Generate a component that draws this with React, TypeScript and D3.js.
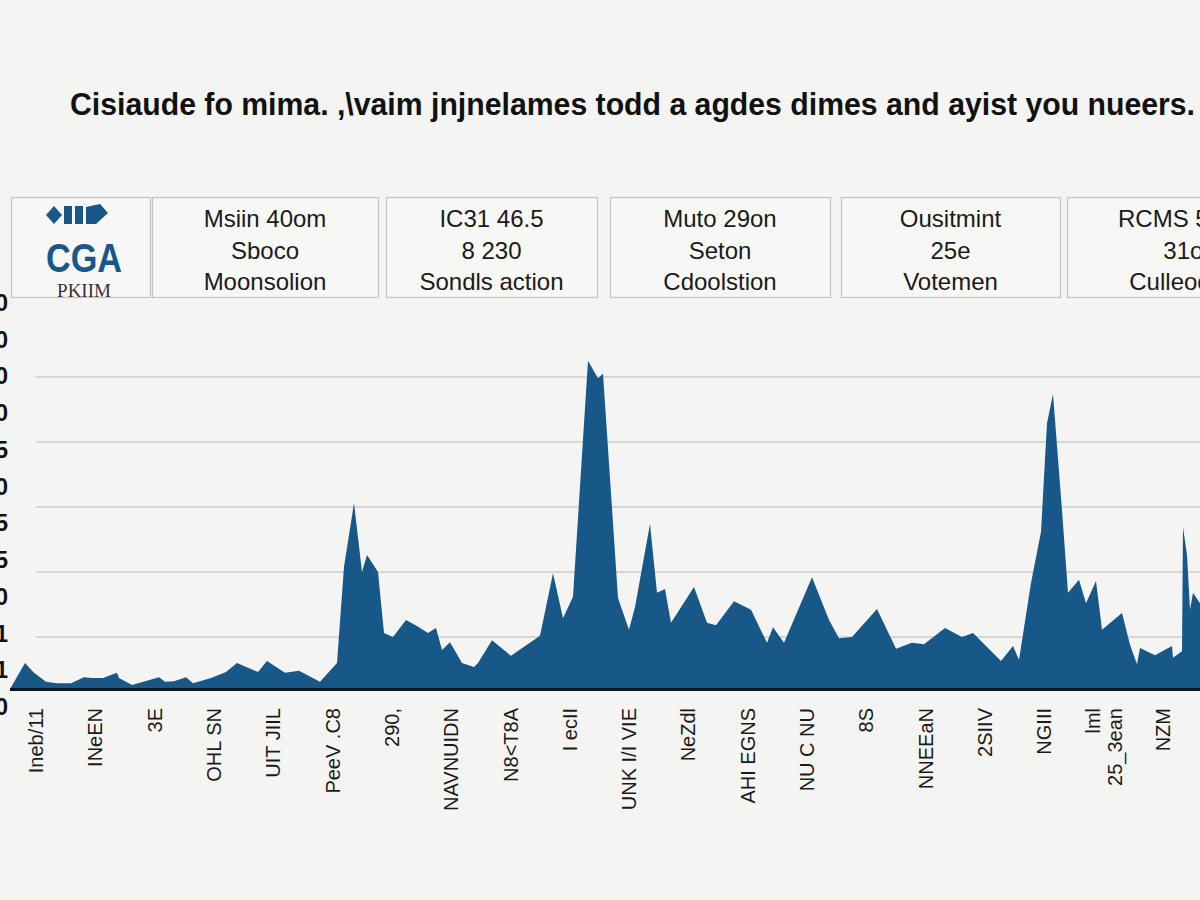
import React from "react";
import * as d3 from "d3";

const TITLE = "Cisiaude fo mima. ,\\vaim jnjnelames todd a agdes dimes and ayist you nueers.";

const BOX_LINE1 = ["Msiin 40om", "IC31 46.5", "Muto 29on", "Ousitmint", "RCMS 52.8m"];
const BOX_LINE2 = ["Sboco", "8 230", "Seton", "25e", "31on"];
const BOX_LINE3 = ["Moonsolion", "Sondls action", "Cdoolstion", "Votemen", "Culleoodon"];

const Y_LABELS = ["100", "90", "80", "70", "65", "60", "55", "45", "40", "31", "21", "0"];

const X_LABELS = [
  "Ineb/11", "INeEN", "3E", "OHL SN", "UIT JIIL", "PeeV .C8", "290,", "NAVNUIDN",
  "N8<T8A", "I ecII", "UNK I/I VIE", "NeZdl", "AHI EGNS", "NU C NU", "8S",
  "NNEEaN", "2SIIV", "NGIII", "lml|25_3ean", "NZM",
];

const T = [
  0, 1.5, 2.4, 3.6, 4.7, 6.1, 7.4, 8.2, 9.3, 10.7, 10.9, 12.2, 14.9, 15.5, 16.4, 17.6,
  18.3, 20.1, 21.6, 22.7, 24.8, 25.7, 27.5, 28.9, 31.0, 32.7, 33.4, 34.4, 35.2, 35.7,
  36.8, 37.4, 38.3, 39.6, 40.7, 41.8, 42.6, 43.2, 44.0, 45.2, 46.4, 46.8, 48.2, 50.1,
  53.0, 54.3, 55.3, 56.3, 57.8, 58.8, 59.3, 60.8, 61.9, 62.5, 64.0, 64.7, 65.5, 66.1,
  68.4, 69.7, 70.6, 72.4, 74.1, 75.7, 76.3, 77.4, 80.2, 81.9, 82.9, 84.2, 86.7, 88.6,
  90.2, 91.4, 93.5, 95.2, 96.3, 99.1, 100.3, 100.9, 102.1, 103.1, 103.7, 104.3, 105.2,
  105.8, 106.9, 107.6, 108.6, 109.2, 111.2, 112.0, 112.7, 113.0, 114.5, 116.2, 116.3,
  117.2, 117.3, 117.7, 118.0, 118.3, 119.0,
];
const V = [
  0, 4.0, 2.5, 1.1, 0.9, 0.9, 1.8, 1.7, 1.7, 2.5, 1.7, 0.6, 1.8, 1.1, 1.2, 1.8,
  0.9, 1.7, 2.6, 4.0, 2.6, 4.3, 2.5, 2.8, 1.1, 4.0, 18.8, 28.6, 18.0, 20.6,
  18.0, 8.6, 8.0, 10.6, 9.7, 8.6, 9.4, 6.0, 7.2, 4.0, 3.4, 4.0, 7.5, 5.1,
  8.2, 17.8, 10.9, 14.2, 50.5, 47.8, 48.5, 14.0, 9.1, 12.6, 25.4, 14.8, 15.4, 10.2,
  15.7, 10.2, 9.8, 13.5, 12.2, 7.1, 9.5, 7.1, 17.2, 10.6, 7.8, 8.0, 12.3, 6.2,
  7.1, 6.9, 9.4, 8.0, 8.6, 4.3, 6.6, 4.5, 16.3, 24.2, 40.9, 45.4, 27.5,
  14.8, 16.8, 13.2, 16.6, 9.1, 11.7, 6.8, 3.8, 6.3, 5.2, 6.6, 4.8,
  5.8, 24.9, 20.6, 12.2, 14.8, 13.2,
];

const GRID = [8, 18, 28, 38, 48];

const W = 1200;
const H = 900;
const FONT = "'Liberation Sans', Arial, Helvetica, sans-serif";
const BG = "#f4f4f2";
const BLUE = "#175888";

const BOXES = [
  { x: 152, w: 226 },
  { x: 386, w: 211 },
  { x: 610, w: 220 },
  { x: 841, w: 219 },
  { x: 1067, w: 246 },
];

export default function App() {
  const data = T.map((t, i) => ({ t, v: V[i] }));
  const x = d3.scaleLinear().domain([0, 119]).range([10, 1200]);
  const y = d3.scaleLinear().domain([0, 48]).range([689, 377]);
  const area = d3
    .area<{ t: number; v: number }>()
    .x((d) => x(d.t))
    .y0(y(0))
    .y1((d) => y(d.v));

  const yLab = d3.scalePoint<string>().domain(Y_LABELS.map((d, i) => i + ":" + d)).range([311, 715]);
  const xLab = d3.scalePoint<string>().domain(X_LABELS).range([38, 1165]);

  return (
    <svg
      width={W}
      height={H}
      style={{ position: "absolute", left: 0, top: 0, display: "block" }}
      fontFamily={FONT}
    >
      <rect width={W} height={H} fill={BG} />

      <text
        x={70}
        y={115}
        fontSize={31}
        fontWeight="bold"
        fill="#111"
        textLength={1125}
        lengthAdjust="spacingAndGlyphs"
      >
        {TITLE}
      </text>

      {/* logo box */}
      <g>
        <rect x={11.5} y={197.5} width={139} height={100} fill="#f7f7f5" stroke="#c4c4c4" strokeWidth={1.2} />
        <path d="M46,215 L54,206 L62,215 L54,224 Z" fill={BLUE} />
        <rect x={64} y={206} width={8} height={18} fill={BLUE} />
        <rect x={75} y={206} width={8} height={18} fill={BLUE} />
        <path d="M86,207 L100,204 L108,213 L96,224 L86,224 Z" fill={BLUE} />
        <text
          x={46}
          y={272}
          fontSize={40}
          fontWeight="bold"
          fill={BLUE}
          textLength={76}
          lengthAdjust="spacingAndGlyphs"
        >
          CGA
        </text>
        <text
          x={84}
          y={297}
          fontSize={19}
          textAnchor="middle"
          fill="#333"
          fontFamily="'Liberation Serif', 'DejaVu Serif', serif"
        >
          PKIIM
        </text>
      </g>

      {BOXES.map((b, i) => (
        <g key={i}>
          <rect x={b.x + 0.5} y={197.5} width={b.w} height={100} fill="#f7f7f5" stroke="#c4c4c4" strokeWidth={1.2} />
          <text x={b.x + b.w / 2} y={227} textAnchor="middle" fontSize={24} fill="#1a1a1a">
            {BOX_LINE1[i]}
          </text>
          <text x={b.x + b.w / 2} y={259} textAnchor="middle" fontSize={24} fill="#1a1a1a">
            {BOX_LINE2[i]}
          </text>
          <text x={b.x + b.w / 2} y={290} textAnchor="middle" fontSize={24} fill="#1a1a1a">
            {BOX_LINE3[i]}
          </text>
        </g>
      ))}

      {/* y labels (cut at left edge, as in the reference) */}
      {Y_LABELS.map((l, i) => (
        <text
          key={i}
          x={8}
          y={yLab(i + ":" + l)}
          textAnchor="end"
          fontSize={23}
          fontWeight="bold"
          fill="#111"
        >
          {l}
        </text>
      ))}

      {/* gridlines */}
      {GRID.map((g) => (
        <line key={g} x1={36} x2={W} y1={y(g)} y2={y(g)} stroke="#cdcdcd" strokeWidth={1.6} />
      ))}

      <path d={area(data) || ""} fill={BLUE} />

      <line x1={10} x2={W} y1={y(0) + 0.5} y2={y(0) + 0.5} stroke="#0d1620" strokeWidth={3} />

      {X_LABELS.map((l) => {
        const px = xLab(l) as number;
        const lines = l.split("|");
        return (
          <text
            key={l}
            transform={`translate(${px},708) rotate(-90)`}
            textAnchor="end"
            fontSize={20}
            fill="#1a1a1a"
            dominantBaseline="middle"
          >
            {lines.map((s, j) => (
              <tspan key={j} x={0} dy={j === 0 ? (lines.length > 1 ? "-0.55em" : 0) : "1.1em"}>
                {s}
              </tspan>
            ))}
          </text>
        );
      })}
    </svg>
  );
}
